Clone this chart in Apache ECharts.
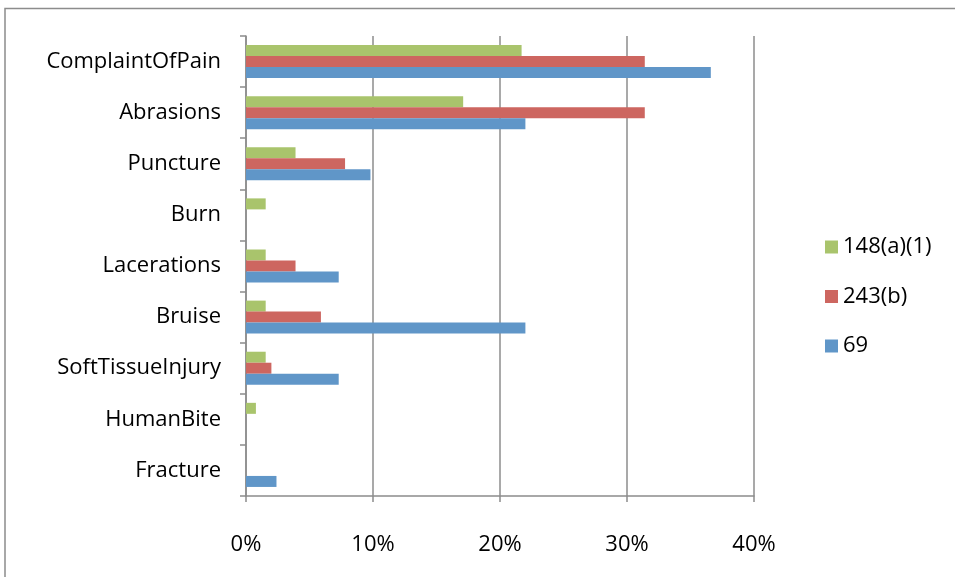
<!DOCTYPE html>
<html><head><meta charset="utf-8">
<script src="https://cdn.jsdelivr.net/npm/echarts@6/dist/echarts.min.js"></script>
<style>html,body{margin:0;padding:0;background:#fff}#c{width:955px;height:577px}</style>
</head><body><div id="c"></div>
<script>
const categories = ['ComplaintOfPain','Abrasions','Puncture','Burn','Lacerations','Bruise','SoftTissueInjury','HumanBite','Fracture'];
const s148 = [21.7, 17.1, 3.9, 1.55, 1.55, 1.55, 1.55, 0.78, 0];
const s243 = [31.4, 31.4, 7.8, 0, 3.9, 5.9, 2.0, 0, 0];
const s69  = [36.6, 22.0, 9.8, 0, 7.3, 22.0, 7.3, 0, 2.4];
const xTicks = [0, 10, 20, 30, 40];

const font = 'Open Sans';
const fs = 22;
const chart = echarts.init(document.getElementById('c'));
const mk = (name, data, color) => ({
  name, type: 'bar', data, barWidth: 11, barGap: '0%',
  itemStyle: { color }, emphasis: { disabled: true }
});
chart.setOption({
  animation: false,
  graphic: [
    { type: 'polyline', shape: { points: [[5, 577], [5, 8.5], [955, 8.5]] }, style: { stroke: '#8c8c8c', lineWidth: 1.5, fill: null } }
  ],
  grid: { left: 246, right: 201, top: 36, bottom: 81 },
  legend: {
    orient: 'vertical', left: 820, top: 231, itemGap: 27.5, itemWidth: 13, itemHeight: 13,
    icon: 'rect', data: ['148(a)(1)', '243(b)', '69'],
    textStyle: { fontFamily: font, fontSize: fs, color: '#000' }
  },
  xAxis: {
    type: 'value', min: xTicks[0], max: xTicks[xTicks.length - 1], interval: 10,
    axisLine: { show: true, lineStyle: { color: '#8c8c8c', width: 1.5 } },
    axisTick: { show: true, length: 6, lineStyle: { color: '#8c8c8c', width: 1.5 } },
    splitLine: { show: true, lineStyle: { color: '#8c8c8c', width: 1.5 } },
    axisLabel: { formatter: '{value}%', margin: 38, fontFamily: font, fontSize: fs, color: '#000' }
  },
  yAxis: {
    type: 'category', data: categories, inverse: true,
    axisLine: { show: true, lineStyle: { color: '#8c8c8c', width: 1.5 } },
    axisTick: { show: true, length: 6, lineStyle: { color: '#8c8c8c', width: 1.5 } },
    axisLabel: { margin: 25, fontFamily: font, fontSize: fs, color: '#000' }
  },
  series: [
    mk('148(a)(1)', s148, '#A9C46C'),
    mk('243(b)', s243, '#CD6660'),
    mk('69', s69, '#6096C8')
  ]
});
</script></body></html>
